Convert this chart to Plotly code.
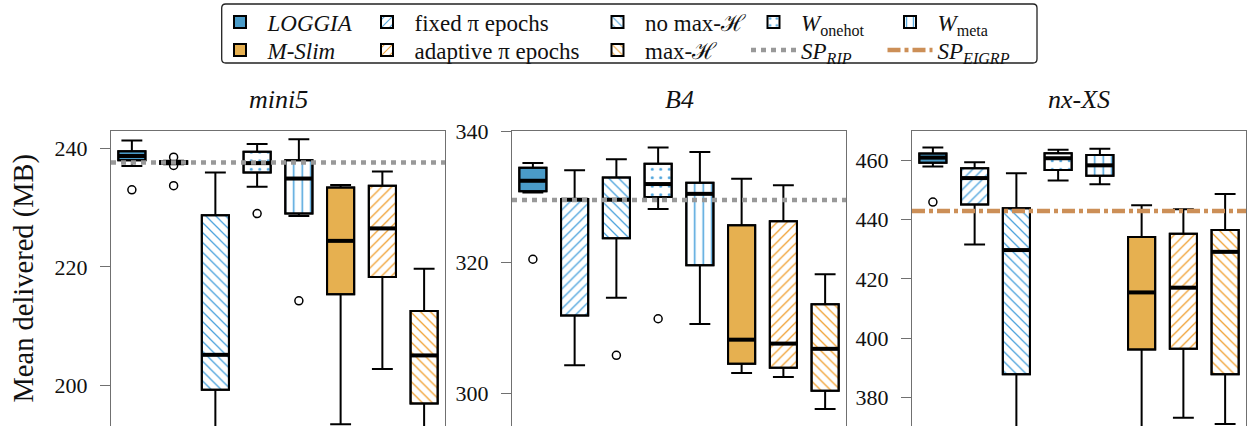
import plotly.graph_objects as go

W, H = 1247, 426

# ---------------- data ----------------
methods = ["LOGGIA", "fixed π epochs", "no max-ℋ", "W_onehot", "W_meta",
           "M-Slim", "adaptive π epochs", "max-ℋ"]
legend_labels = ["<i>LOGGIA</i>", "fixed π epochs", "no max-ℋ",
                 "<i>W</i><sub>onehot</sub>", "<i>W</i><sub>meta</sub>",
                 "<i>M-Slim</i>", "adaptive π epochs", "max-ℋ"]
positions = [0, 1, 2, 3, 4, 5, 6, 7]
panel_titles = ["mini5", "B4", "nx-XS"]

mini5_lo = [237.0, 237.3, 188.0, 233.5, 228.6, 193.5, 202.8, 189.0]
mini5_q1 = [238.0, 237.4, 199.3, 235.9, 229.0, 215.4, 218.3, 197.0]
mini5_med = [238.7, 237.6, 205.2, 237.5, 234.9, 224.4, 226.5, 205.1]
mini5_q3 = [239.5, 237.8, 228.7, 239.4, 238.0, 233.4, 233.7, 212.6]
mini5_hi = [241.3, 237.9, 235.9, 240.7, 241.5, 233.8, 236.1, 219.7]
mini5_out_x = [0, 1, 1, 1, 3, 4]
mini5_out_y = [233.0, 238.5, 237.1, 233.7, 229.0, 214.3]
mini5_sp_rip = 237.6

b4_lo = [330.7, 304.3, 314.6, 328.2, 310.6, 303.1, 302.5, 297.6]
b4_q1 = [330.9, 311.9, 323.7, 330.0, 319.6, 304.5, 303.9, 300.4]
b4_med = [332.5, 329.6, 329.6, 332.0, 330.5, 308.2, 307.6, 306.8]
b4_q3 = [334.5, 329.7, 333.0, 335.1, 332.2, 325.7, 326.3, 313.6]
b4_hi = [335.2, 334.1, 335.8, 337.6, 336.9, 332.8, 331.8, 318.2]
b4_out_x = [0, 2, 3]
b4_out_y = [320.5, 305.8, 311.4]
b4_sp_rip = 329.55

nxxs_lo = [457.9, 431.6, 360.0, 453.2, 451.9, 360.0, 373.1, 371.0]
nxxs_q1 = [459.2, 445.1, 387.8, 456.7, 454.8, 396.1, 396.4, 387.8]
nxxs_med = [460.9, 454.0, 429.7, 460.7, 458.3, 415.4, 417.0, 429.1]
nxxs_q3 = [462.3, 457.3, 443.8, 462.4, 461.8, 434.1, 435.2, 436.5]
nxxs_hi = [464.3, 459.3, 455.6, 463.6, 463.9, 444.8, 443.5, 448.6]
nxxs_out_x = [0]
nxxs_out_y = [445.9]
nxxs_sp_eigrp = 442.9

mini5_ticks = [200, 220, 240]
b4_ticks = [300, 320, 340]
nxxs_ticks = [380, 400, 420, 440, 460]

# ---------------- styles ----------------
BLUE = "#4a9bc8"
ORANGE = "#e6b050"
HBLUE = "#4aa2dc"
HORANGE = "#f0a030"
styles = [
    dict(color=BLUE, shape="", fg=None),
    dict(color="white", shape="/", fg=HBLUE),
    dict(color="white", shape="\\", fg=HBLUE),
    dict(color="white", shape=".", fg=HBLUE),
    dict(color="white", shape="|", fg=HBLUE),
    dict(color=ORANGE, shape="", fg=None),
    dict(color="white", shape="/", fg=HORANGE),
    dict(color="white", shape="\\", fg=HORANGE),
]
# legend slot of each method: (legend id, swatch centre x px, row centre y px)
legend_slot = [("legend", 240, 22), ("legend2", 387, 22), ("legend3", 617.5, 22),
               ("legend4", 773.5, 22), ("legend5", 910, 22),
               ("legend6", 240, 50), ("legend7", 387, 50), ("legend8", 617.5, 50)]
sp_rip_slot = ("legend9", 773.5, 50)
sp_eigrp_slot = ("legend10", 910, 50)

BOXW = 0.65
FONT = "Liberation Serif"
FRAME = "#707070"
TXT = "#111111"

panels = [
    dict(lo=mini5_lo, q1=mini5_q1, med=mini5_med, q3=mini5_q3, hi=mini5_hi,
         ox=mini5_out_x, oy=mini5_out_y, sp=mini5_sp_rip, sp_kind="rip",
         ticks=mini5_ticks, rng=[193.21, 242.91], px=(111, 445)),
    dict(lo=b4_lo, q1=b4_q1, med=b4_med, q3=b4_q3, hi=b4_hi,
         ox=b4_out_x, oy=b4_out_y, sp=b4_sp_rip, sp_kind="rip",
         ticks=b4_ticks, rng=[295.0, 340.11], px=(512, 846)),
    dict(lo=nxxs_lo, q1=nxxs_q1, med=nxxs_med, q3=nxxs_q3, hi=nxxs_hi,
         ox=nxxs_out_x, oy=nxxs_out_y, sp=nxxs_sp_eigrp, sp_kind="eigrp",
         ticks=nxxs_ticks, rng=[370.31, 469.89], px=(912, 1246)),
]

fig = go.Figure()
TOP = 131
ydom = [0, 1 - TOP / H]

for k, p in enumerate(panels):
    xa = "x" if k == 0 else f"x{k+1}"
    ya = "y" if k == 0 else f"y{k+1}"
    for i, pos in enumerate(positions):
        st = styles[i]
        pat = dict(shape=st["shape"])
        if st["shape"]:
            pat.update(fgcolor=st["fg"], bgcolor="white", fillmode="replace",
                       size=8.5 if st["shape"] in (".", "|") else 7,
                       solidity=0.1 if st["shape"] == "." else 0.18)
        fig.add_trace(go.Bar(
            x=[pos], y=[p["q3"][i] - p["q1"][i]], base=[p["q1"][i]],
            width=BOXW, name=legend_labels[i],
            marker=dict(color=st["color"], pattern=pat,
                        line=dict(color="black", width=2)),
            xaxis=xa, yaxis=ya, showlegend=(k == 0),
            legend=legend_slot[i][0], hoverinfo="skip"))
    fig.add_trace(go.Box(
        x=positions, q1=p["q1"], median=p["med"], q3=p["q3"],
        lowerfence=p["lo"], upperfence=p["hi"], width=BOXW, whiskerwidth=0.77,
        fillcolor="rgba(0,0,0,0)", line=dict(color="black", width=2),
        boxpoints=False, showlegend=False, xaxis=xa, yaxis=ya, hoverinfo="skip"))
    mx, my = [], []
    for pos, m in zip(positions, p["med"]):
        mx += [pos - BOXW / 2, pos + BOXW / 2, None]
        my += [m, m, None]
    fig.add_trace(go.Scatter(x=mx, y=my, mode="lines",
                             line=dict(color="black", width=4),
                             showlegend=False, xaxis=xa, yaxis=ya, hoverinfo="skip"))
    fig.add_trace(go.Scatter(x=p["ox"], y=p["oy"], mode="markers",
                             marker=dict(symbol="circle-open", size=8, color="black",
                                         line=dict(width=1.5)),
                             showlegend=False, xaxis=xa, yaxis=ya, hoverinfo="skip"))

for k, p in enumerate(panels):
    xa = "x" if k == 0 else f"x{k+1}"
    ya = "y" if k == 0 else f"y{k+1}"
    if p["sp_kind"] == "rip":
        fig.add_trace(go.Scatter(
            x=[-0.5, 7.5], y=[p["sp"], p["sp"]], mode="lines",
            line=dict(color="#999999", width=4.5, dash="5px,5px"),
            name="<i>SP<sub>RIP</sub></i>", showlegend=(k == 0),
            legend=sp_rip_slot[0], xaxis=xa, yaxis=ya, hoverinfo="skip"))
    else:
        fig.add_trace(go.Scatter(
            x=[-0.5, 7.5], y=[p["sp"], p["sp"]], mode="lines",
            line=dict(color="#cc8f57", width=4.5, dash="13px,4px,4px,4px"),
            name="<i>SP<sub>EIGRP</sub></i>", showlegend=True,
            legend=sp_eigrp_slot[0], xaxis=xa, yaxis=ya, hoverinfo="skip"))

layout = dict(
    width=W, height=H, margin=dict(l=0, r=0, t=0, b=0, autoexpand=False),
    paper_bgcolor="white", plot_bgcolor="white",
    font=dict(family=FONT, size=20, color=TXT),
    barmode="overlay", boxmode="overlay", hovermode=False,
)
for k, p in enumerate(panels):
    xs = "" if k == 0 else str(k + 1)
    layout[f"xaxis{xs}"] = dict(
        domain=[p["px"][0] / W, p["px"][1] / W], anchor=f"y{xs}",
        range=[-0.5, 7.5], side="top", showline=True, linecolor=FRAME,
        linewidth=1.3, showticklabels=False, ticks="", showgrid=False,
        zeroline=False, fixedrange=True, automargin=False)
    layout[f"yaxis{xs}"] = dict(
        domain=ydom, anchor=f"x{xs}", range=p["rng"], showline=True,
        mirror=True, linecolor=FRAME, linewidth=1.3, ticks="outside",
        ticklen=10, tickwidth=1.3, tickcolor=FRAME, tickvals=p["ticks"],
        tickfont=dict(size=22, family=FONT, color=TXT),
        ticklabelstandoff=8, showgrid=False, zeroline=False, fixedrange=True,
        automargin=False)

ITEMW = 45
GAP = (ITEMW + 10) / 2
for lid, cx, cy in legend_slot + [sp_rip_slot, sp_eigrp_slot]:
    layout[lid] = dict(
        x=(cx - GAP) / W, y=1 - cy / H, xanchor="left", yanchor="middle",
        orientation="v", traceorder="normal", tracegroupgap=0,
        bgcolor="rgba(0,0,0,0)", borderwidth=0, itemwidth=ITEMW,
        font=dict(family=FONT, size=23, color=TXT))
fig.update_layout(**layout)

x0, x1, y0, y1 = 221.7 / W, 1037 / W, 1 - 63 / H, 1 - 4 / H
rx, ry = 4 / W, 4 / H
path = (f"M{x0+rx},{y1} L{x1-rx},{y1} Q{x1},{y1} {x1},{y1-ry} "
        f"L{x1},{y0+ry} Q{x1},{y0} {x1-rx},{y0} L{x0+rx},{y0} "
        f"Q{x0},{y0} {x0},{y0+ry} L{x0},{y1-ry} Q{x0},{y1} {x0+rx},{y1} Z")
fig.add_shape(type="path", path=path, xref="paper", yref="paper",
              line=dict(color="#222222", width=1.3), layer="below")

for k, p in enumerate(panels):
    fig.add_annotation(text=f"<i>{panel_titles[k]}</i>", xref="paper", yref="paper",
                       x=(p["px"][0] + p["px"][1]) / 2 / W, y=1 - 99 / H,
                       xanchor="center", yanchor="middle", showarrow=False,
                       font=dict(family=FONT, size=26, color=TXT))

fig.add_annotation(text="Mean delivered (MB)", xref="paper", yref="paper",
                   x=23 / W, y=1 - 278.5 / H, textangle=-90, xanchor="center",
                   yanchor="middle", showarrow=False,
                   font=dict(family=FONT, size=28.5, color=TXT))

post = "document.body.style.margin='0';document.body.style.overflow='hidden';"
fig.write_html("out.html", post_script=post, config={"displayModeBar": False})
